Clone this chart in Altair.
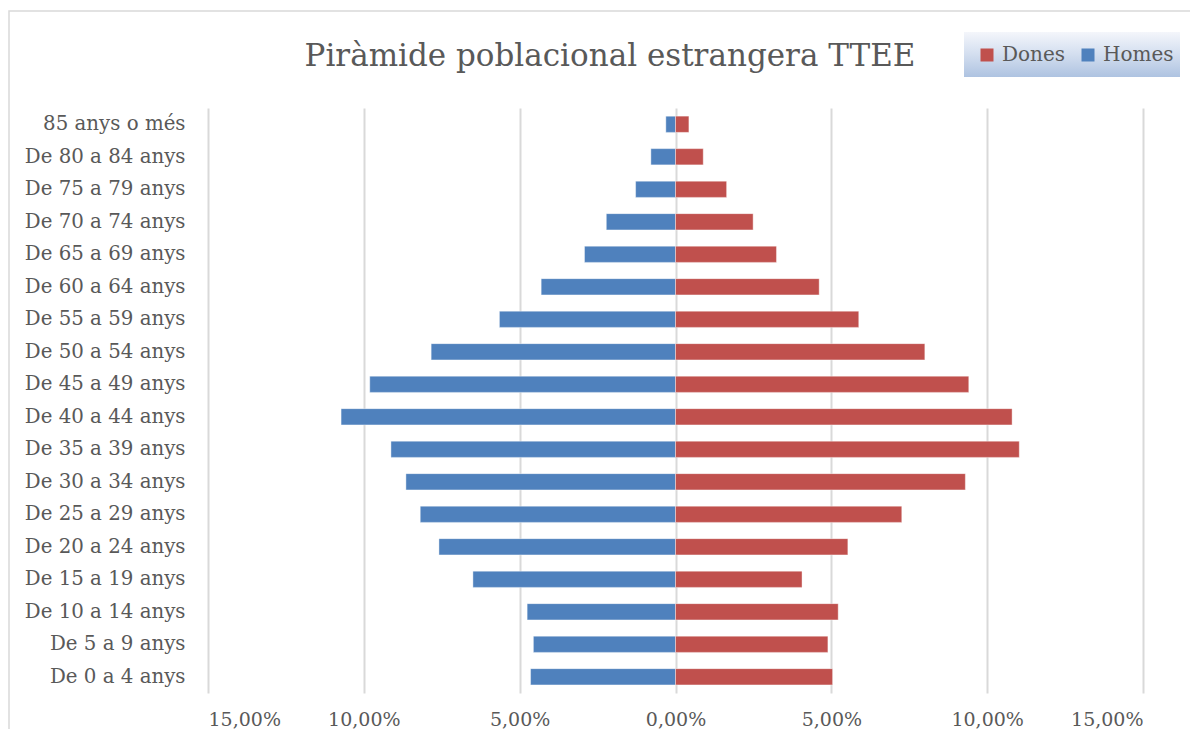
import altair as alt
import pandas as pd

# Age groups, top to bottom as in the chart
ages = [
    "85 anys o més", "De 80 a 84 anys", "De 75 a 79 anys", "De 70 a 74 anys",
    "De 65 a 69 anys", "De 60 a 64 anys", "De 55 a 59 anys", "De 50 a 54 anys",
    "De 45 a 49 anys", "De 40 a 44 anys", "De 35 a 39 anys", "De 30 a 34 anys",
    "De 25 a 29 anys", "De 20 a 24 anys", "De 15 a 19 anys", "De 10 a 14 anys",
    "De 5 a 9 anys", "De 0 a 4 anys",
]
# Percentages (%)
homes = [0.31, 0.79, 1.28, 2.22, 2.92, 4.31, 5.65, 7.84, 9.81, 10.73,
         9.13, 8.65, 8.19, 7.59, 6.50, 4.76, 4.56, 4.65]
dones = [0.43, 0.89, 1.64, 2.49, 3.24, 4.61, 5.88, 8.00, 9.41, 10.80,
         11.03, 9.30, 7.26, 5.53, 4.06, 5.22, 4.89, 5.04]
series = ["Dones", "Homes"]
colors = ["#c0504d", "#4f81bd"]
ticks = [-15, -10, -5, 0, 5, 10, 15]
title_text = "Piràmide poblacional estrangera TTEE"

FONT = "DejaVu Serif"
TXT = "#595959"

rows = []
for a, h, d in zip(ages, homes, dones):
    rows.append({"age": a, "sex": "Homes", "value": -h})
    rows.append({"age": a, "sex": "Dones", "value": d})
df = pd.DataFrame(rows)

W, H = 935, 585

bars = alt.Chart(df).mark_bar(stroke="#ffffff", strokeWidth=0.8, strokeOpacity=0.5).encode(
    y=alt.Y("age:N", sort=ages, title=None,
            scale=alt.Scale(paddingInner=0.5, paddingOuter=0.25),
            axis=alt.Axis(domain=False, ticks=False, tickSize=0, labelPadding=23,
                          labelFont=FONT, labelFontSize=19.8, labelColor=TXT,
                          grid=False)),
    x=alt.X("value:Q", title=None,
            scale=alt.Scale(domain=[-15, 15], nice=False, zero=False),
            axis=alt.Axis(values=ticks, grid=True, gridColor="#d9d9d9", gridWidth=2,
                          domain=False, ticks=False, tickSize=0, labelPadding=17,
                          labelFont=FONT, labelFontSize=19, labelColor=TXT,
                          labelExpr="replace(format(abs(datum.value), '.2f'), '.', ',') + '%'")),
    color=alt.Color("sex:N",
                    scale=alt.Scale(domain=series, range=colors),
                    legend=alt.Legend(orient="none", legendX=769, legendY=-63,
                                      direction="horizontal", title=None,
                                      symbolType="square", symbolSize=169,
                                      symbolStrokeWidth=0, labelFont=FONT,
                                      labelFontSize=20, labelColor=TXT,
                                      labelOffset=5, columnPadding=12, padding=0)),
)

one = pd.DataFrame({"k": [0]})

legend_bg = alt.Chart(one).mark_rect(
    color=alt.Gradient(
        gradient="linear",
        stops=[alt.GradientStop(color="#f4f6fb", offset=0),
               alt.GradientStop(color="#d3deef", offset=0.5),
               alt.GradientStop(color="#aec3e1", offset=1)],
        x1=0, x2=0, y1=0, y2=1),
).encode(x=alt.value(756), x2=alt.value(972), y=alt.value(-76), y2=alt.value(-31))

frame = alt.Chart(one).mark_rect(fillOpacity=0, stroke="#d9d9d9", strokeWidth=1.5).encode(
    x=alt.value(-199), x2=alt.value(1100), y=alt.value(-97), y2=alt.value(800))

title = alt.Chart(one).mark_text(
    text=title_text, font=FONT, fontSize=31, color=TXT, align="center",
    baseline="alphabetic",
).encode(x=alt.value(402), y=alt.value(-42))

chart = alt.layer(frame, legend_bg, title, bars).properties(
    width=W, height=H,
    autosize=alt.AutoSizeParams(type="none"),
    padding={"left": 200, "top": 100, "right": 47, "bottom": 36},
    background="white",
).configure_view(strokeWidth=0, stroke=None)

chart.save("out.html", embed_options={"renderer": "svg", "actions": False})
